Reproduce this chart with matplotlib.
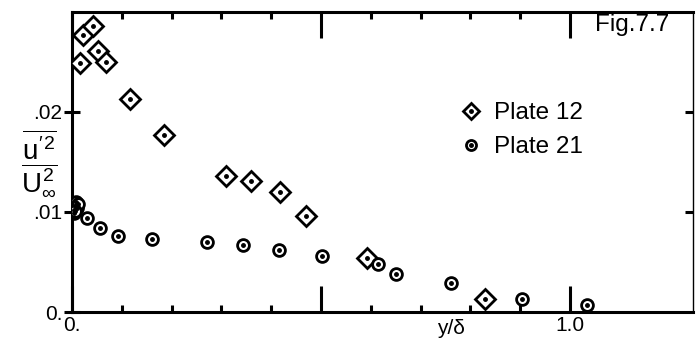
import matplotlib
matplotlib.use("Agg")
import matplotlib.pyplot as plt
from matplotlib.lines import Line2D

plt.rcParams['font.family'] = ['Liberation Sans', 'DejaVu Sans']
plt.rcParams['mathtext.fontset'] = 'custom'
plt.rcParams['mathtext.rm'] = 'Liberation Sans'
plt.rcParams['mathtext.it'] = 'Liberation Sans'

# Plate 12 (diamonds)
p12_x = [0.016, 0.022, 0.042, 0.052, 0.068, 0.116, 0.185, 0.309, 0.359, 0.418, 0.470, 0.592, 0.829]
p12_y = [0.0249, 0.0277, 0.0286, 0.0261, 0.0250, 0.0213, 0.0177, 0.0136, 0.0131, 0.0120, 0.0096, 0.0054, 0.0013]

# Plate 21 (circles)
p21_x = [0.004, 0.006, 0.008, 0.010, 0.005, 0.012, 0.007, 0.030, 0.056, 0.093, 0.160, 0.271, 0.344,
         0.416, 0.502, 0.614, 0.651, 0.761, 0.904, 1.034]
p21_y = [0.0102, 0.0106, 0.0110, 0.0104, 0.0099, 0.0108, 0.0101, 0.0094, 0.0084, 0.0076, 0.0073, 0.0070, 0.0067,
         0.0062, 0.0056, 0.0048, 0.0038, 0.0029, 0.0013, 0.0007]

labels = ["Plate 12", "Plate 21"]
x_major = [0.0, 0.5, 1.0]
x_major_labels = ["0.", "", "1.0"]
x_minor = [0.1, 0.2, 0.3, 0.4, 0.6, 0.7, 0.8, 0.9]
y_ticks = [0.0, 0.01, 0.02]
y_tick_labels = ["0.", ".01", ".02"]

fig = plt.figure(figsize=(6.99, 3.43), dpi=100)
ax = fig.add_axes([72/699, 1-312/343, (693-72)/699, 300/343])
ax.set_xlim(0, 1.247)
ax.set_ylim(0, 0.030)

ms_d, ms_c, mew = 10, 8.5, 2.0
ax.plot(p12_x, p12_y, ls='none', marker='D', ms=ms_d, mfc='white', mec='black', mew=mew, zorder=3)
ax.plot(p12_x, p12_y, ls='none', marker='o', ms=2.5, color='black', zorder=4)
ax.plot(p21_x, p21_y, ls='none', marker='o', ms=ms_c, mfc='white', mec='black', mew=mew, zorder=3)
ax.plot(p21_x, p21_y, ls='none', marker='o', ms=2.5, color='black', zorder=4)

h1 = (Line2D([], [], ls='none', marker='D', ms=ms_d*0.85, mfc='white', mec='black', mew=mew),
      Line2D([], [], ls='none', marker='o', ms=2.5, color='black'))
h2 = (Line2D([], [], ls='none', marker='o', ms=ms_c*0.85, mfc='white', mec='black', mew=mew),
      Line2D([], [], ls='none', marker='o', ms=2.5, color='black'))
ax.legend([h1, h2], labels, loc='upper left', bbox_to_anchor=(459/699, 1-102/343),
          bbox_transform=fig.transFigure, frameon=False, fontsize=17.5, handlelength=0.95,
          handletextpad=0.5, borderpad=0, borderaxespad=0, labelspacing=0.5)

for s in ax.spines.values():
    s.set_linewidth(2.2)
ax.spines['right'].set_linewidth(1.0)

ax.set_xticks(x_major)
ax.set_xticklabels(x_major_labels, fontsize=15)
ax.set_xticks(x_minor, minor=True)
ax.tick_params(axis='x', which='major', direction='in', length=19, width=2.2, top=True, pad=3)
ax.tick_params(axis='x', which='minor', direction='in', length=5, width=2.2, top=True)
ax.set_yticks(y_ticks)
ax.set_yticklabels(y_tick_labels, fontsize=15)
ax.tick_params(axis='y', which='major', direction='inout', length=12, width=2.2, right=False, pad=1)

axr = ax.twinx()
axr.set_ylim(ax.get_ylim())
axr.set_yticks(y_ticks[1:])
axr.set_yticklabels([])
axr.tick_params(axis='y', direction='in', length=6, width=2.2)
for s in axr.spines.values():
    s.set_visible(False)

ax.text(0.76, -0.025, "y/δ", transform=ax.get_xaxis_transform(), ha='center', va='top', fontsize=15)
fig.text(595/699, 1-25/343, "Fig.7.7", ha='left', va='center', fontsize=17.5)
fig.text(39/699, 1-163/343, r"$\dfrac{\overline{u'^2}}{U_\infty^2}$", ha='center', va='center', fontsize=20)

fig.savefig("out.png", dpi=100)
